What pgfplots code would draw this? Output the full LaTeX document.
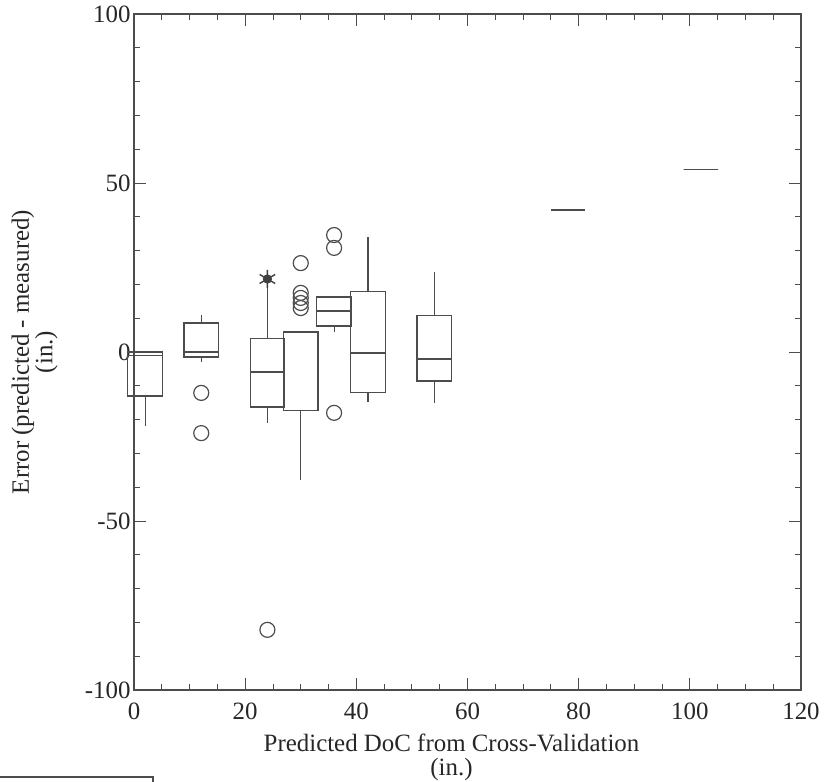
\documentclass[border=0pt]{standalone}
\usepackage{fontspec}
\setmainfont{Liberation Serif}
\usepackage{pgfplots}
\pgfplotsset{compat=1.18}
\usepgfplotslibrary{statistics}
\definecolor{ink}{gray}{0.3}
\begin{document}
\begin{tikzpicture}
\useasboundingbox (-134bp,-92bp) rectangle (693bp,690bp);
\begin{axis}[
  at={(0,0)}, anchor=south west,
  scale only axis, width=667bp, height=676bp,
  xmin=0, xmax=120, ymin=-100, ymax=100,
  clip=false,
  xtick={0,20,...,120}, ytick={-100,-50,0,50,100},
  minor x tick num=3, minor y tick num=4,
  tick align=inside, major tick length=12bp, minor tick length=6bp,
  tick style={color=ink, line width=0.9bp},
  axis line style={ink, line width=1.1bp},
  ticklabel style={font=\fontsize{25}{25}\selectfont, text=black!85},
  xticklabel style={yshift=-9bp},
  /pgf/number format/assume math mode=true,
  xlabel={Predicted DoC from Cross-Validation\\(in.)},
  ylabel={Error (predicted - measured)\\(in.)},
  every axis x label/.style={at={(axis description cs:0.476,0)}, anchor=north, yshift=-44bp, align=center, inner sep=0pt, font=\fontsize{25}{23.5}\selectfont, text=black!85},
  every axis y label/.style={at={(axis description cs:-0.114,0.5)}, anchor=south, rotate=90, align=center, inner sep=0pt, font=\fontsize{25}{21.5}\selectfont, text=black!85},
  boxplot/draw direction=y,
  every axis plot/.append style={draw=ink, line width=1.2bp},
]
\addplot[boxplot prepared={draw position=2, median=-1, upper quartile=0, lower quartile=-13, upper whisker=0, lower whisker=-22, box extend=6.2, whisker extend=0}] coordinates {};
\addplot[boxplot prepared={draw position=12.1, median=0, upper quartile=8.6, lower quartile=-1.5, upper whisker=10.9, lower whisker=-3, box extend=6.2, whisker extend=0}] coordinates {};
\addplot[boxplot prepared={draw position=24, median=-5.9, upper quartile=4.1, lower quartile=-16.3, upper whisker=21, lower whisker=-21, box extend=6.2, whisker extend=0}] coordinates {};
\addplot[boxplot prepared={draw position=30, median=5.9, upper quartile=5.9, lower quartile=-17.2, upper whisker=5.9, lower whisker=-38, box extend=6.2, whisker extend=0}] coordinates {};
\addplot[boxplot prepared={draw position=36, median=12.1, upper quartile=16.3, lower quartile=7.7, upper whisker=16.3, lower whisker=5.9, box extend=6.2, whisker extend=0}] coordinates {};
\addplot[boxplot prepared={draw position=42.1, median=-0.3, upper quartile=17.8, lower quartile=-12.1, upper whisker=34, lower whisker=-14.8, box extend=6.2, whisker extend=0}] coordinates {};
\addplot[boxplot prepared={draw position=54, median=-2.1, upper quartile=10.9, lower quartile=-8.6, upper whisker=23.7, lower whisker=-15.1, box extend=6.2, whisker extend=0}] coordinates {};
\addplot[boxplot prepared={draw position=78.1, median=42, upper quartile=42, lower quartile=42, upper whisker=42, lower whisker=42, box extend=6, whisker extend=0}] coordinates {};
\addplot[boxplot prepared={draw position=102, median=54.1, upper quartile=54.1, lower quartile=54.1, upper whisker=54.1, lower whisker=54.1, box extend=6.2, whisker extend=0}] coordinates {};
% outliers
\addplot[only marks, mark=o, mark size=7.5bp, mark options={draw=ink, line width=1.2bp}] coordinates {
(12.1,-12.1) (12.1,-24) (24,-82.2)
(30,26.3) (30,17.5) (30,16) (30,14.5) (30,13)
(36,34.6) (36,30.8) (36,-18)
};
\addplot[only marks, mark=*, mark size=4bp, mark options={fill=black!75, draw=black!75}] coordinates {(24,21.6)};
\addplot[only marks, mark=asterisk, mark size=9bp, mark options={draw=black!75, line width=1.4bp}] coordinates {(24,21.6)};
\end{axis}
\draw[ink, line width=1.2bp] (-134bp,-87bp) -- (19bp,-87bp) -- (19bp,-92bp);
\end{tikzpicture}
\end{document}
